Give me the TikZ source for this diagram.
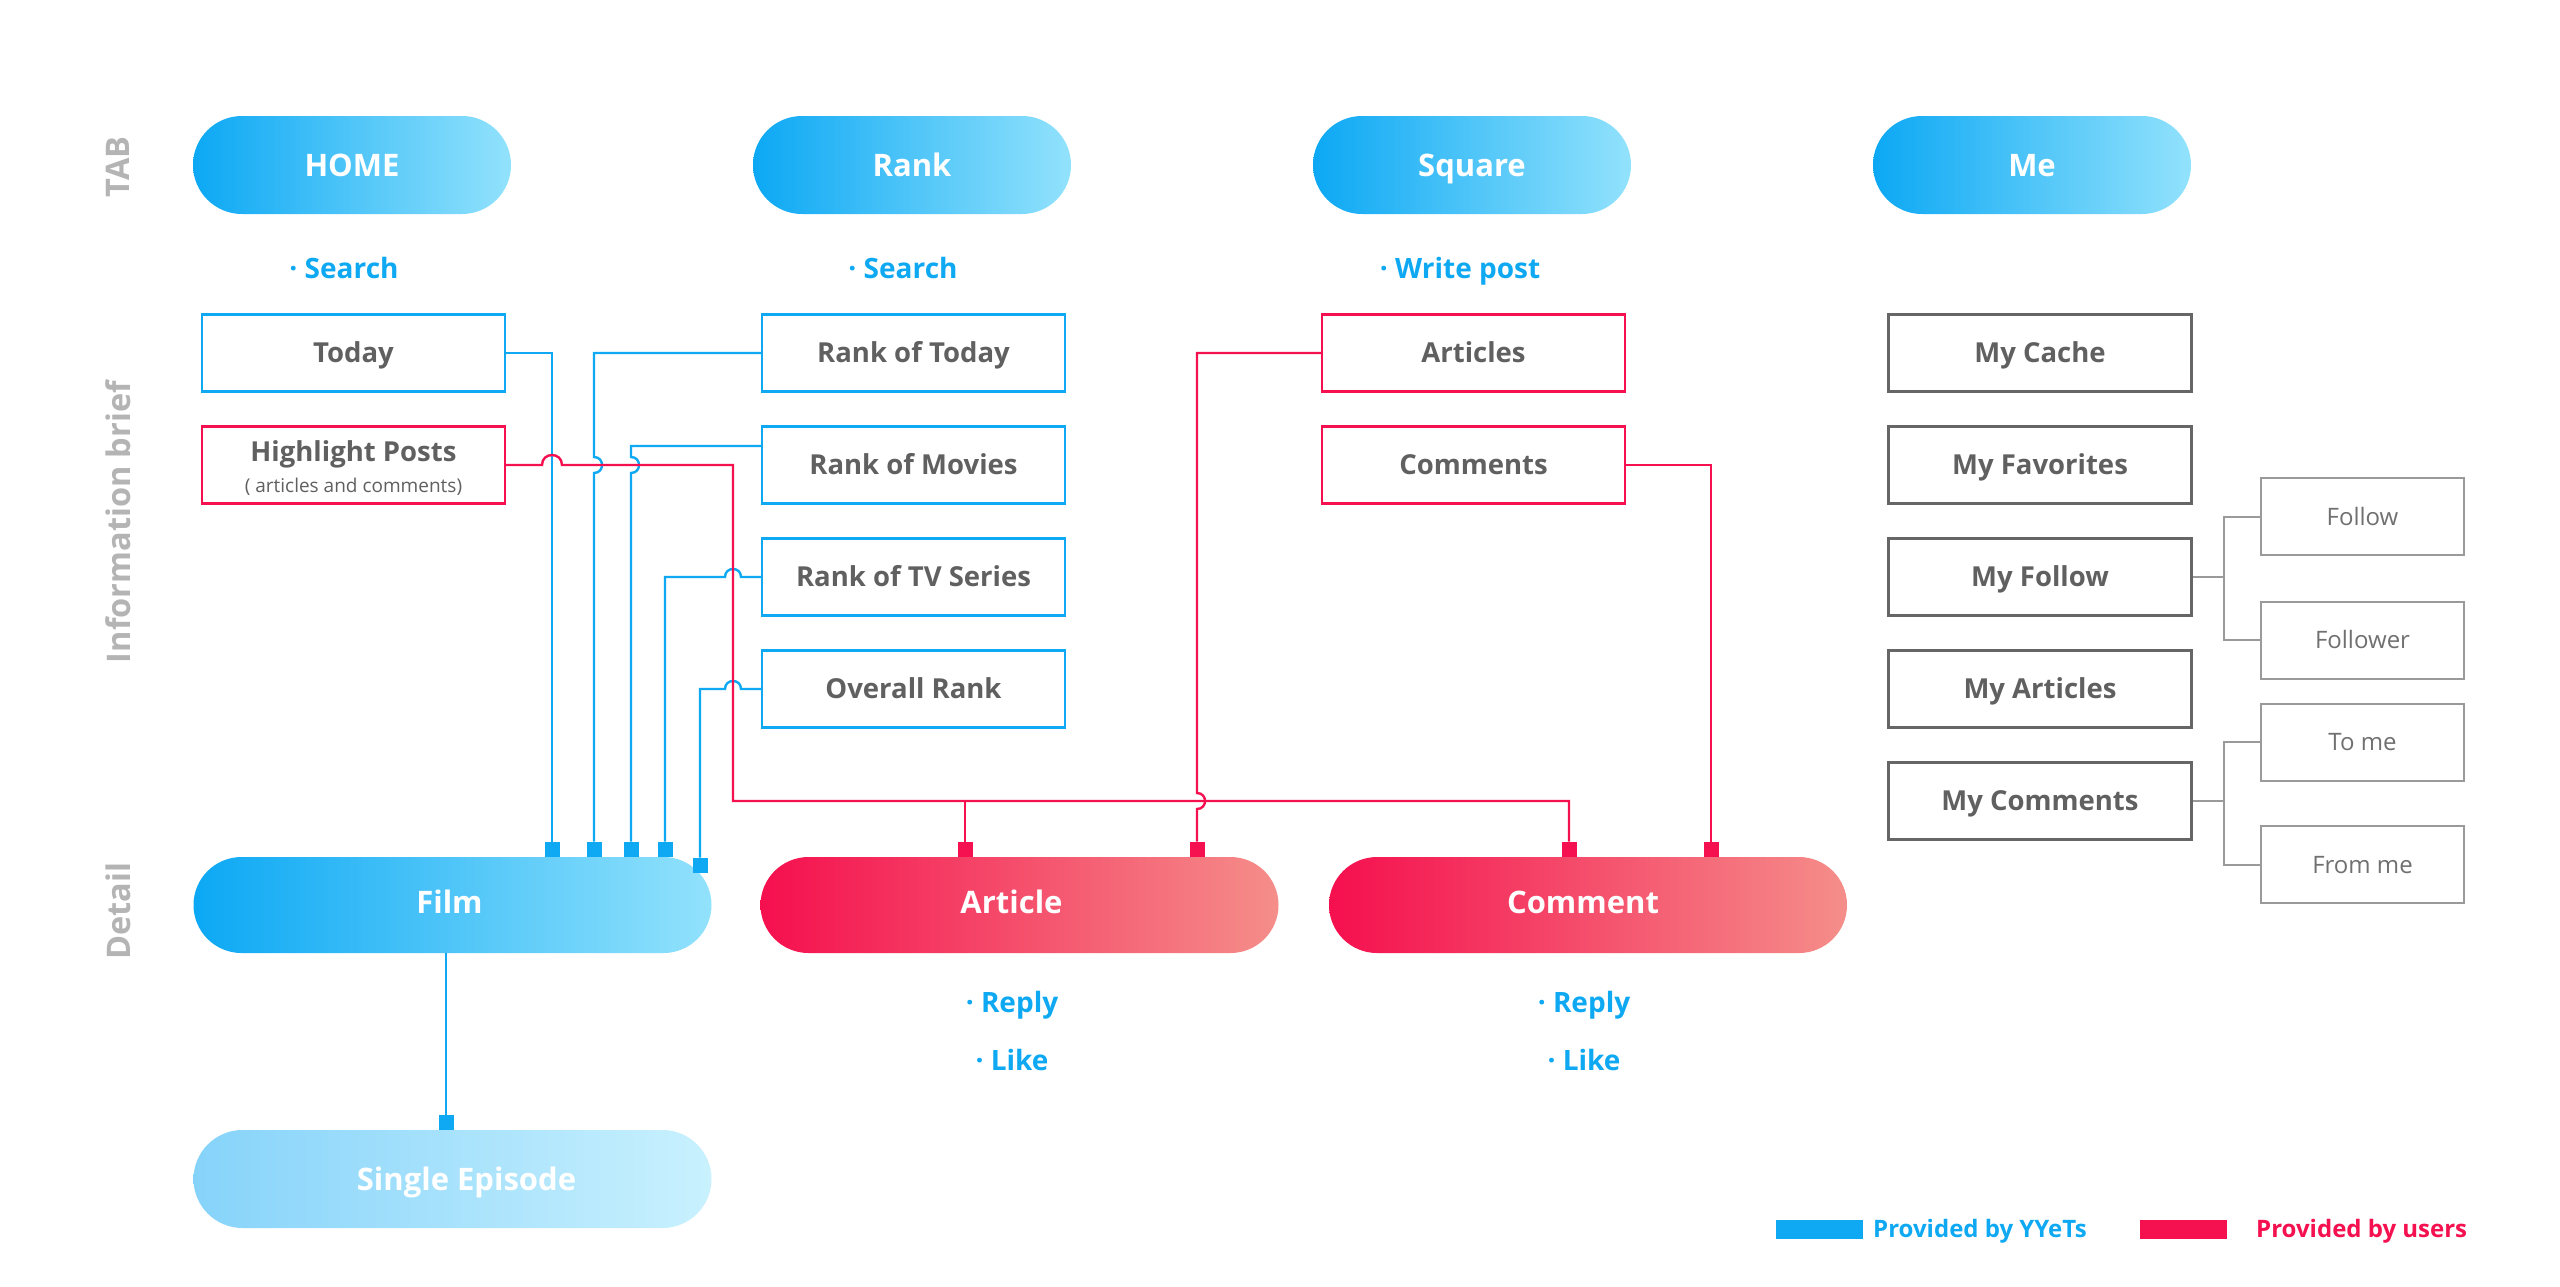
\documentclass[tikz,border=0pt]{standalone}
\usepackage{fontspec}
\setmainfont{Open Sans}
\usetikzlibrary{calc}
\definecolor{bl}{HTML}{0EA9F2}
\definecolor{blL}{HTML}{0CA8F4}
\definecolor{blR}{HTML}{92E2FC}
\definecolor{rd}{HTML}{F5104F}
\definecolor{rdL}{HTML}{F50F4E}
\definecolor{rdR}{HTML}{F58E8A}
\definecolor{seL}{HTML}{86D3FA}
\definecolor{seR}{HTML}{C9F1FE}
\definecolor{txt}{HTML}{606060}
\definecolor{gbox}{HTML}{666666}
\definecolor{gsub}{HTML}{9A9A9A}
\definecolor{subtxt}{HTML}{707070}
\definecolor{lbl}{HTML}{B4B4B4}
\newcommand\myfs[1]{\fontsize{#1}{#1}\selectfont}
\begin{document}
\begin{tikzpicture}[x=1pt,y=-1pt,
  pill/.style={rounded corners=48pt, minimum width=518pt, minimum height=96pt, inner sep=0pt, text=white, font=\bfseries\myfs{31}, text height=22.1pt, text depth=0pt},
  tabpill/.style={pill, rounded corners=49pt, minimum width=318pt, minimum height=98pt, left color=blL, right color=blR},
  detpill/.style={pill, text depth=6pt},
  infobox/.style={draw, line width=2.4pt, fill=white, minimum width=303pt, minimum height=77pt, inner sep=0pt, text=txt, font=\bfseries\myfs{27.5}, align=center, text height=19.6pt, text depth=0pt},
  subbox/.style={draw=gsub, line width=2pt, fill=white, minimum width=203pt, minimum height=77pt, inner sep=0pt, text=subtxt, font=\myfs{24}, text height=17.1pt, text depth=0pt},
  feat/.style={text=bl, font=\bfseries\myfs{28}, inner sep=0pt, text height=20pt, text depth=0pt},
  rowlbl/.style={text=lbl, font=\bfseries\myfs{32.5}, inner sep=0pt, rotate=90},
  legtxt/.style={anchor=west, font=\bfseries\myfs{24}, inner sep=0pt, text height=17.1pt, text depth=0pt},
  bline/.style={draw=bl, line width=2.4pt},
  rline/.style={draw=rd, line width=2.4pt},
  gline/.style={draw=gsub, line width=2pt},
  bsq/.style={fill=bl, minimum size=15pt, inner sep=0pt, anchor=south},
  rsq/.style={fill=rd, minimum size=15pt, inner sep=0pt, anchor=south}
]
\fill[white] (0,0) rectangle (2560,1286);
\useasboundingbox (0,0) rectangle (2560,1286);

% row labels
\node[rowlbl] (lTab) at (118,167) {TAB};
\node[rowlbl] (lInfo) at (118,522) {Information brief};
\node[rowlbl] (lDet) at (118,911) {Detail};

% tabs
\node[tabpill] (home) at (352,165) {HOME};
\node[tabpill] (rank) at (912,165) {Rank};
\node[tabpill] (square) at (1472,165) {Square};
\node[tabpill] (me) at (2032,165) {Me};

\node[feat] (f1) at (344,268) {· Search};
\node[feat] (f2) at (903,268) {· Search};
\node[feat] (f3) at (1460,268) {· Write post};

% info boxes
\node[infobox, draw=bl] (today) at (353.5,353) {Today};
\node[infobox, draw=rd, text height={}, text depth={}] (highlight) at (353.5,465) {\rule{0pt}{27pt}Highlight Posts\\[2.6pt]{\mdseries\myfs{19}( articles and comments)}};

\node[infobox, draw=bl] (rtoday) at (913.5,353) {Rank of Today};
\node[infobox, draw=bl] (rmovies) at (913.5,465) {Rank of Movies};
\node[infobox, draw=bl] (rtv) at (913.5,577) {Rank of TV Series};
\node[infobox, draw=bl] (roverall) at (913.5,689) {Overall Rank};

\node[infobox, draw=rd] (articles) at (1473.5,353) {Articles};
\node[infobox, draw=rd] (comments) at (1473.5,465) {Comments};

\node[infobox, draw=gbox] (mycache) at (2040,353) {My Cache};
\node[infobox, draw=gbox] (myfav) at (2040,465) {My Favorites};
\node[infobox, draw=gbox] (myfollow) at (2040,577) {My Follow};
\node[infobox, draw=gbox] (myarticles) at (2040,689) {My Articles};
\node[infobox, draw=gbox] (mycomments) at (2040,801) {My Comments};

\node[subbox] (follow) at (2362.5,516.5) {Follow};
\node[subbox] (follower) at (2362.5,640) {Follower};
\node[subbox] (tome) at (2362.5,742) {To me};
\node[subbox] (fromme) at (2362.5,864.5) {From me};

% detail pills
\node[detpill, left color=blL, right color=blR] (film) at (452.5,905) {\kern-6pt Film};
\node[detpill, left color=rdL, right color=rdR] (article) at (1019.5,905) {\kern-16pt Article};
\node[detpill, left color=rdL, right color=rdR] (comment) at (1588,905) {\kern-10pt Comment};
\node[pill, rounded corners=49pt, minimum height=98pt, left color=seL, right color=seR] (single) at (452.5,1179) {\kern28pt Single Episode};

\node[feat] (r1) at (1012,1002) {· Reply};
\node[feat] (k1) at (1012,1060) {· Like};
\node[feat] (r2) at (1584,1002) {· Reply};
\node[feat] (k2) at (1584,1060) {· Like};

% square markers
\node[bsq] (sqT) at (552,857) {};
\node[bsq] (sqRT) at (594,857) {};
\node[bsq] (sqRM) at (631,857) {};
\node[bsq] (sqTV) at (665,857) {};
\node[bsq] (sqOV) at (700,873) {};
\node[bsq] (sqSE) at (446,1130) {};
\node[rsq] (sqA1) at (965,857) {};
\node[rsq] (sqA2) at (1197,857) {};
\node[rsq] (sqC1) at (1569,857) {};
\node[rsq] (sqC2) at (1711,857) {};

% blue connectors
\draw[bline] (today.east) -| (sqT.north);
\draw[bline] (rtoday.west) -| (594,457) .. controls (604.7,457) and (604.7,473) .. (594,473) -- (sqRT.north);
\draw[bline] ([yshift=19pt]rmovies.west) -| (631,457) .. controls (641.7,457) and (641.7,473) .. (631,473) -- (sqRM.north);
\draw[bline] (rtv.west) -- (741,577) .. controls (741,566.3) and (725,566.3) .. (725,577) -| (sqTV.north);
\draw[bline] (roverall.west) -- (741,689) .. controls (741,678.3) and (725,678.3) .. (725,689) -| (sqOV.north);
\draw[bline] (sqSE.north) -- (446,953);

% red connectors
\draw[rline] (highlight.east) -- (542,465) .. controls (542,451.7) and (562,451.7) .. (562,465) -- (733,465) -- (733,801) -| (sqC1.north);
\draw[rline] (965,801) -- (sqA1.north);
\draw[rline] (articles.west) -| (1197,793) .. controls (1207.7,793) and (1207.7,809) .. (1197,809) -- (sqA2.north);
\draw[rline] (comments.east) -| (sqC2.north);

% gray brackets
\coordinate (bf) at (2224,577);
\coordinate (bc) at (2224,801);
\draw[gline] (myfollow.east) -- (bf);
\draw[gline] (follow.west) -| (bf) |- (follower.west);
\draw[gline] (mycomments.east) -- (bc);
\draw[gline] (tome.west) -| (bc) |- (fromme.west);

% legend
\node[fill=bl, minimum width=87pt, minimum height=19pt, inner sep=0pt] (legB) at (1819.5,1229.5) {};
\node[legtxt, text=bl] (legBt) at (1873,1229) {Provided by YYeTs};
\node[fill=rd, minimum width=87pt, minimum height=19pt, inner sep=0pt] (legR) at (2183.5,1229.5) {};
\node[legtxt, text=rd] (legRt) at (2256,1229) {Provided by users};
\end{tikzpicture}
\end{document}
